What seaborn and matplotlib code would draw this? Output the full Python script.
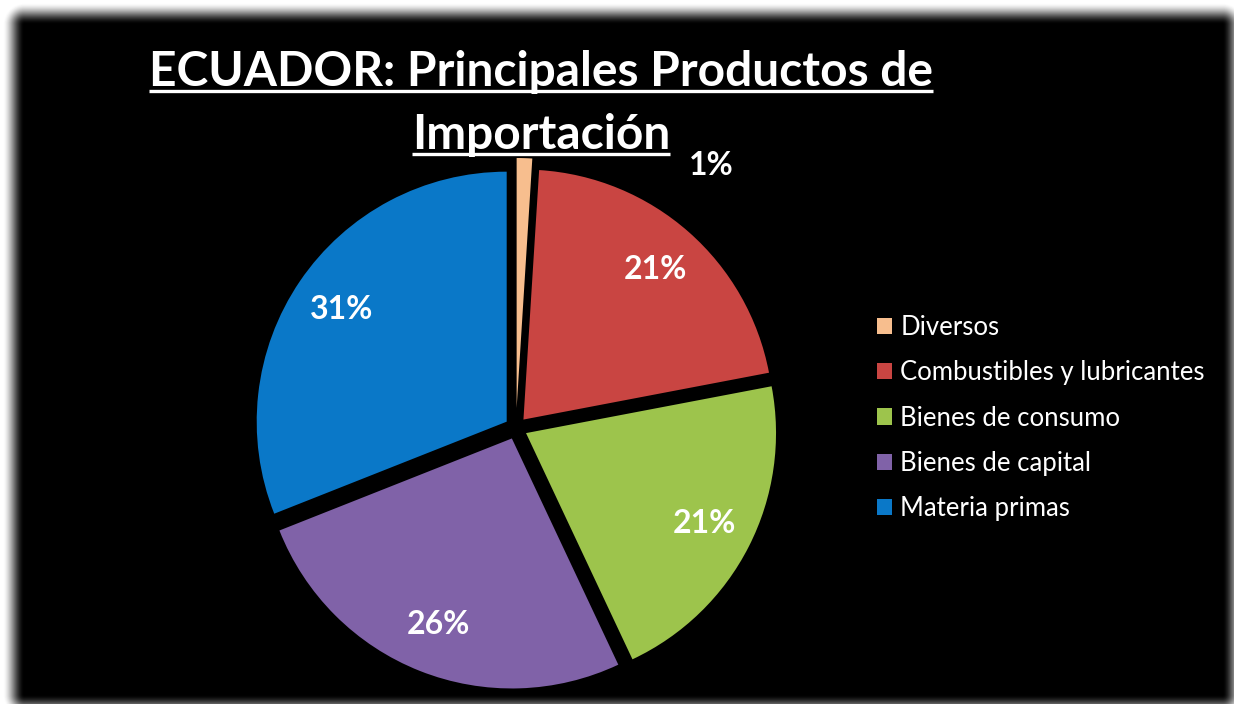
import numpy as np
import matplotlib
matplotlib.use("Agg")
import matplotlib.pyplot as plt
import seaborn as sns
from matplotlib.lines import Line2D

sns.set_theme(style="white")
plt.rcParams['font.family'] = ['Lato', 'DejaVu Sans']

# ---- data ----
categories = ["Diversos", "Combustibles y lubricantes", "Bienes de consumo",
              "Bienes de capital", "Materia primas"]
shares = [1, 21, 21, 26, 31]
colors = ["#F7BE8E", "#C94542", "#9DC44C", "#8062A8", "#0A78C8"]
title_lines = ["ECUADOR: Principales Productos de", "Importación"]

W, H = 1234, 704
fig = plt.figure(figsize=(W / 100, H / 100), dpi=100)
fig.patch.set_facecolor("white")

# ---- soft-edged black panel (background decoration) ----
bg = fig.add_axes([0, 0, 1, 1], zorder=-5)
yy, xx = np.mgrid[0:H, 0:W]
x0, x1, y0, y1 = 24, 1222, 24, 694
dx = np.maximum(np.maximum(x0 - xx, xx - x1), 0)
dy = np.maximum(np.maximum(y0 - yy, yy - y1), 0)
d = np.sqrt(dx ** 2 + dy ** 2) / 22.0
t = np.clip(d, 0, 1)
val = t * t * (3 - 2 * t)
bg.imshow(val, cmap="gray", vmin=0, vmax=1, extent=[0, W, H, 0],
          interpolation="bilinear", aspect="auto")
bg.set_xlim(0, W)
bg.set_ylim(H, 0)
bg.axis("off")

# ---- pie ----
R_PX = 250
cx, cy = 516, 428
half = 1.15
size_px = 2 * half * R_PX
ax = fig.add_axes([cx / W - size_px / 2 / W, (H - cy) / H - size_px / 2 / H,
                   size_px / W, size_px / H])
ax.set_facecolor("none")
explode = [0.08, 0.045, 0.045, 0.045, 0.045]
wedges, texts, autotexts = ax.pie(
    shares, colors=colors, startangle=90, counterclock=False,
    explode=explode, autopct="%1.0f%%", pctdistance=0.80,
    wedgeprops=dict(linewidth=0),
    textprops=dict(color="white", fontsize=23, fontweight="bold"))
# the 1% label sits outside the pie, upper right
autotexts[0].set_position((0.78, 1.05))
ax.set_xlim(-half, half)
ax.set_ylim(-half, half)
ax.set_aspect("equal")
ax.axis("off")

# ---- legend ----
leg = fig.legend(wedges, categories, loc="upper left",
                 bbox_to_anchor=(877 / W, 1 - 315 / H), frameon=False,
                 fontsize=18.5, handlelength=0.6, handleheight=0.6,
                 handletextpad=0.3, labelspacing=0.79, borderpad=0,
                 borderaxespad=0)
for txt in leg.get_texts():
    txt.set_color("white")

# ---- title (underlined) ----
baselines = [86, 149]
title_texts = []
for line, b in zip(title_lines, baselines):
    tt = fig.text(541 / W, 1 - b / H, line, ha="center", va="baseline",
                  color="white", fontsize=34.5, fontweight="bold")
    title_texts.append(tt)

fig.canvas.draw()
renderer = fig.canvas.get_renderer()
for tt, b in zip(title_texts, baselines):
    bb = tt.get_window_extent(renderer)
    yline = (H - b - 5) / H
    fig.add_artist(Line2D([bb.x0 / W, bb.x1 / W], [yline, yline],
                          transform=fig.transFigure, color="white",
                          linewidth=2.4, solid_capstyle="butt"))

fig.savefig("out.png", dpi=100, facecolor=fig.get_facecolor())
